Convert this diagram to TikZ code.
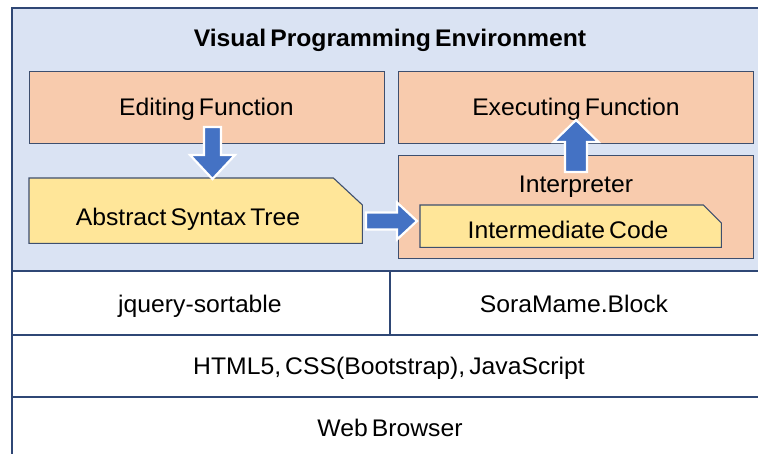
\documentclass[tikz,border=0pt]{standalone}
\usepackage{fontspec}
\setmainfont{Liberation Sans}[WordSpace=0.6, FakeStretch=1.03]
\usetikzlibrary{calc}

\definecolor{envfill}{HTML}{DAE3F3}
\definecolor{navy}{HTML}{2F4775}
\definecolor{boxline}{HTML}{3E4F6E}
\definecolor{peach}{HTML}{F8CBAD}
\definecolor{sand}{HTML}{FFE699}
\definecolor{arrowblue}{HTML}{4472C4}

\tikzset{
  lbl/.style={inner sep=0pt, anchor=base, font=\fontsize{24}{28}\selectfont},
  titlelbl/.style={inner sep=0pt, anchor=base, font=\fontsize{24}{28}\selectfont\bfseries},
  peachbox/.style={draw=boxline, fill=peach, line width=1.1pt},
  sandbox/.style={draw=boxline, fill=sand, line width=1.1pt},
  layerbox/.style={draw=navy, fill=white, line width=1.3pt},
  barrow/.style={fill=arrowblue, draw=white, line width=2.2pt, line join=miter},
}

% block arrow from tail #1 to tip #2; #3 shaft half width, #4 head half width, #5 head length
\newcommand\blockarrow[5]{%
  \coordinate (#1-neck) at ($(#2)!#5!(#1)$);
  \draw[barrow] ($(#1)!#3!90:(#2)$) -- ($(#1-neck)!#3!90:(#2)$)
    -- ($(#1-neck)!#4!90:(#2)$) -- (#2)
    -- ($(#1-neck)!#4!-90:(#2)$) -- ($(#1-neck)!#3!-90:(#2)$)
    -- ($(#1)!#3!-90:(#2)$) -- cycle;
}

\begin{document}
\begin{tikzpicture}[x=1pt, y=-1pt]
\useasboundingbox (0,0) rectangle (758,454);

% software layers below the environment
\draw[layerbox] (12,271) rectangle (390,335);
\draw[layerbox] (390,271) rectangle (775,335);
\draw[layerbox] (12,335) rectangle (775,397);
\draw[layerbox] (12,397) rectangle (775,470);
\node[lbl] (jq) at (200,313) {jquery-sortable};
\node[lbl] (sora) at (574,313) {SoraMame.Block};
\node[lbl] (html) at (389,374) {HTML5, CSS(Bootstrap), JavaScript};
\node[lbl] (web) at (390,436) {Web Browser};

% visual programming environment
\draw[draw=navy, fill=envfill, line width=1.5pt] (12,271) -- (12,8) -- (775,8) -- (775,271) -- cycle;
\node[titlelbl] (title) at (390,47) {Visual Programming Environment};

% editing side
\node[peachbox, minimum width=355pt, minimum height=72pt, anchor=north west] (edit) at (29,71) {};
\node[lbl] (edittext) at (206.5,116) {Editing Function};

\node[inner sep=0pt, minimum width=333pt, minimum height=65pt, anchor=north west] (ast) at (29,178) {};
\draw[sandbox] (ast.south west) -- (ast.north west) -- ([xshift=-29pt]ast.north east)
  -- ([yshift=-27pt]ast.north east) -- (ast.south east) -- cycle;
\node[lbl] (asttext) at (188,226) {Abstract Syntax Tree};

% executing side
\node[peachbox, minimum width=355pt, minimum height=72pt, anchor=north west] (exec) at (398,71) {};
\node[lbl] (exectext) at (576,116) {Executing Function};

\node[peachbox, minimum width=355pt, minimum height=103pt, anchor=north west] (interp) at (398,155) {};
\node[lbl] (interptext) at (576,193) {Interpreter};

\node[inner sep=0pt, minimum width=301pt, minimum height=42pt, anchor=north west] (ic) at (420,205) {};
\draw[sandbox] (ic.south west) -- (ic.north west) -- ([xshift=-18pt]ic.north east)
  -- ([yshift=-18pt]ic.north east) -- (ic.south east) -- cycle;
\node[lbl] (ictext) at (568,239) {Intermediate Code};

% data flow
\coordinate (dtail) at (212.5,127);
\coordinate (dtip) at (212.5,179);
\blockarrow{dtail}{dtip}{8.5pt}{22.5pt}{24pt}

\coordinate (rtail) at (366,221);
\coordinate (rtip) at (417,221);
\blockarrow{rtail}{rtip}{8.5pt}{18.5pt}{20pt}

\coordinate (utail) at (576,172);
\coordinate (utip) at (576,120);
\blockarrow{utail}{utip}{11pt}{22.5pt}{22pt}
\end{tikzpicture}
\end{document}
